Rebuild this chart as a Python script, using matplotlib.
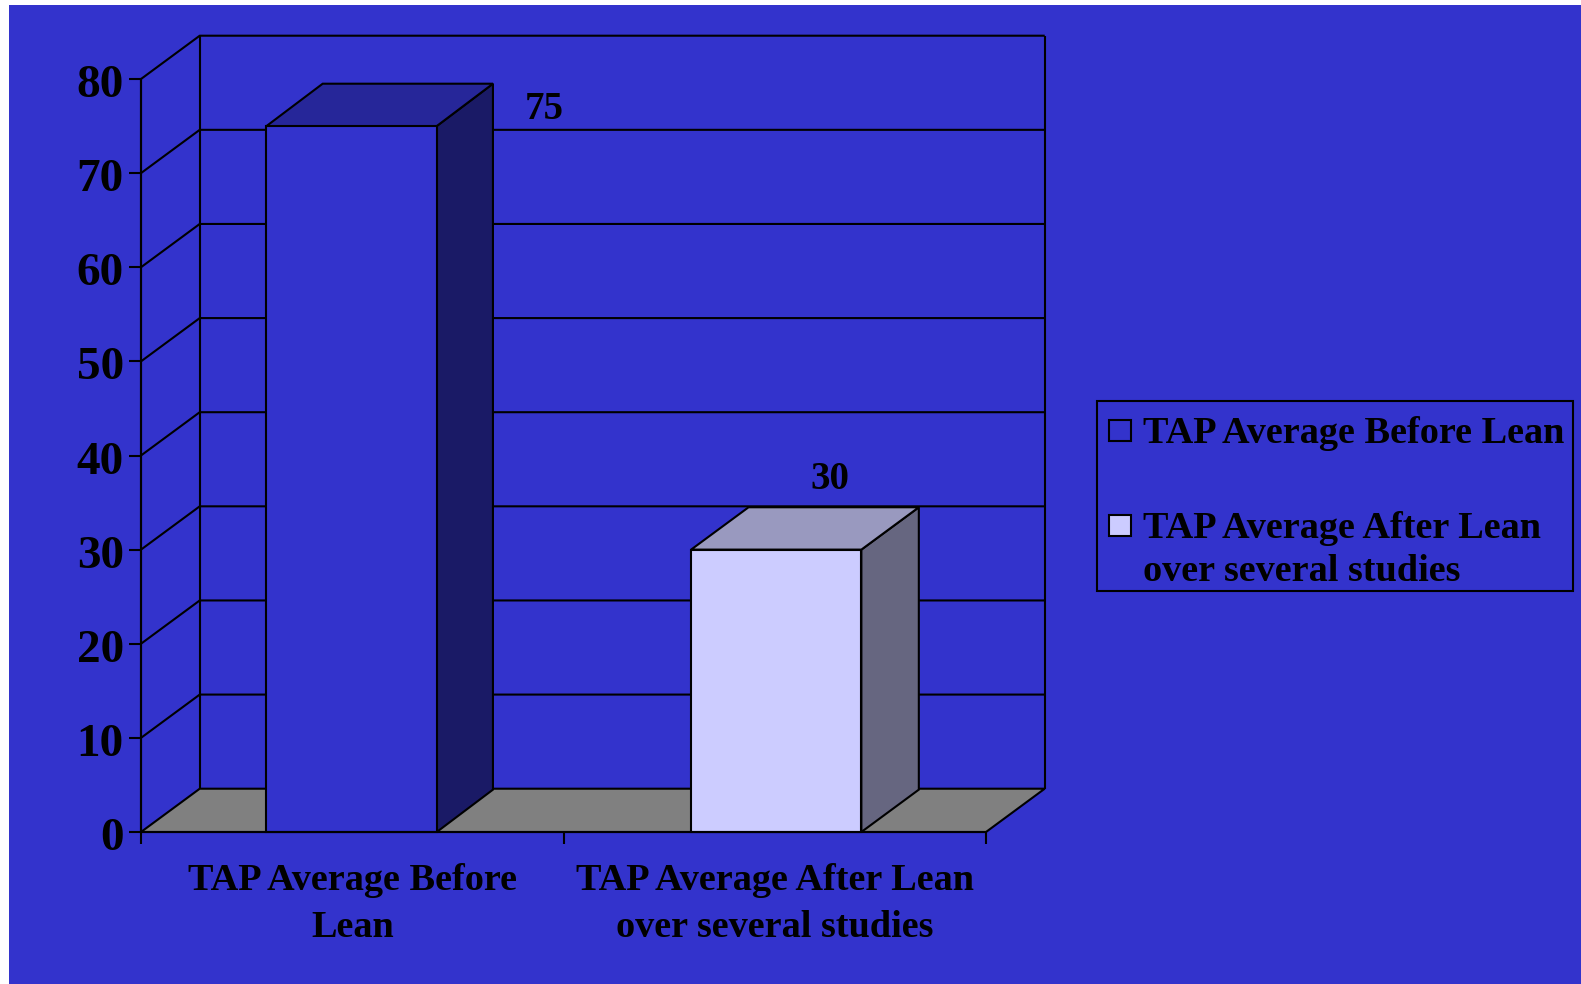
import matplotlib
matplotlib.use("Agg")
from matplotlib import pyplot as plt
from matplotlib.patches import Polygon, Rectangle
from matplotlib.transforms import ScaledTranslation

categorias = ["TAP Average Before\nLean", "TAP Average After Lean\nover several studies"]
legenda = ["TAP Average Before Lean", "TAP Average After Lean\nover several studies"]
valores = [75, 30]
marcas_y = [0, 10, 20, 30, 40, 50, 60, 70, 80]

cor_fundo = "#3333CC"
cor_chao = "#808080"
cor_frente = ["#3333CC", "#CCCCFF"]
cor_topo = ["#262699", "#9999BF"]
cor_lado = ["#1A1A66", "#666680"]

# profundidade do 3D, em unidades dos eixos
prof_x = 0.139
prof_y = 4.6
prof_barra_x = [0.133, 0.136]
prof_barra_y = 4.5
centros = [0.4985, 1.5035]
largura = 0.403
lw = 1.5

# deslocamento dos rotulos em relacao ao centro da frente e ao topo da barra
desloc_rotulos = [(0.456, 1.8), (0.126, 7.5)]

W, H = 1581, 984
plt.rcParams["font.family"] = ["Liberation Serif", "DejaVu Serif"]
plt.rcParams["font.weight"] = "bold"

fig = plt.figure(figsize=(W / 100, H / 100), dpi=100, facecolor="white")
fig.add_artist(Rectangle((9 / W, 0), 1 - 9 / W, 1 - 5 / H, transform=fig.transFigure,
                         facecolor=cor_fundo, edgecolor="none", zorder=-1))

ax = fig.add_axes([141 / W, 1 - 832 / H, 845 / W, 753 / H])
ax.patch.set_visible(False)
ax.set_xlim(0, 2)
ax.set_ylim(0, 80)


def poligono(pontos, cor, z):
    ax.add_patch(Polygon(pontos, closed=True, facecolor=cor, edgecolor="black",
                         linewidth=lw, joinstyle="miter", clip_on=False, zorder=z))


def linha(xs, ys, z=2):
    ax.plot(xs, ys, color="black", linewidth=lw, clip_on=False, zorder=z,
            solid_capstyle="butt")


# chao
poligono([(0, 0), (2, 0), (2 + prof_x, prof_y), (prof_x, prof_y)], cor_chao, 1)

# paredes e grade
for v in marcas_y[1:]:
    linha([0, prof_x, 2 + prof_x], [v, v + prof_y, v + prof_y])
linha([0, 0], [0, marcas_y[-1]])
linha([prof_x, prof_x], [prof_y, marcas_y[-1] + prof_y])
linha([2 + prof_x, 2 + prof_x], [prof_y, marcas_y[-1] + prof_y])

# barras
for i, v in enumerate(valores):
    x0 = centros[i] - largura / 2
    x1 = centros[i] + largura / 2
    px_b = prof_barra_x[i]
    py_b = prof_barra_y
    poligono([(x1, 0), (x1 + px_b, py_b), (x1 + px_b, v + py_b), (x1, v)], cor_lado[i], 3)
    poligono([(x0, v), (x1, v), (x1 + px_b, v + py_b), (x0 + px_b, v + py_b)], cor_topo[i], 3)
    poligono([(x0, 0), (x1, 0), (x1, v), (x0, v)], cor_frente[i], 4)
    dx, dy = desloc_rotulos[i]
    ax.text(centros[i] + dx, v + dy, str(v), ha="center", va="center", fontsize=28,
            color="black", clip_on=False, zorder=5)

# eixos
for lado in ["top", "right"]:
    ax.spines[lado].set_visible(False)
ax.spines["left"].set_linewidth(lw)
ax.spines["bottom"].set_linewidth(lw)
ax.spines["bottom"].set_zorder(6)
ax.set_yticks(marcas_y)
ax.set_yticklabels([str(v) for v in marcas_y], fontsize=34, color="black")
ax.tick_params(axis="y", length=8.5, width=lw, pad=4)
# numeros do eixo y um pouco abaixo da marca
desce = ScaledTranslation(0, -2 / 100, fig.dpi_scale_trans)
for rot in ax.get_yticklabels():
    rot.set_transform(rot.get_transform() + desce)
ax.set_xticks([0, 1, 2])
ax.set_xticklabels([])
ax.tick_params(axis="x", which="major", length=8.5, width=lw)
ax.set_xticks([0.5, 1.5], minor=True)
ax.set_xticklabels(categorias, minor=True, fontsize=27.5, color="black", linespacing=1.45)
ax.tick_params(axis="x", which="minor", length=0, pad=22.5)


# legenda, em coordenadas de pixel
def px(x, y):
    return x / W, 1 - y / H


x_caixa, y_caixa = px(1097, 591)
fig.add_artist(Rectangle((x_caixa, y_caixa), 476 / W, 190 / H, transform=fig.transFigure,
                         facecolor="none", edgecolor="black", linewidth=lw))
for i, rotulo in enumerate(legenda):
    y_sw = [441, 536][i]
    fig.add_artist(Rectangle(px(1109, y_sw), 22 / W, 21 / H, transform=fig.transFigure,
                             facecolor=cor_frente[i], edgecolor="black", linewidth=lw))
    fig.text(*px(1143, [443, 581][i]), rotulo, fontsize=27.5, color="black",
             ha="left", va="baseline", linespacing=1.3)

fig.savefig("out.png", dpi=100, facecolor=fig.get_facecolor())
